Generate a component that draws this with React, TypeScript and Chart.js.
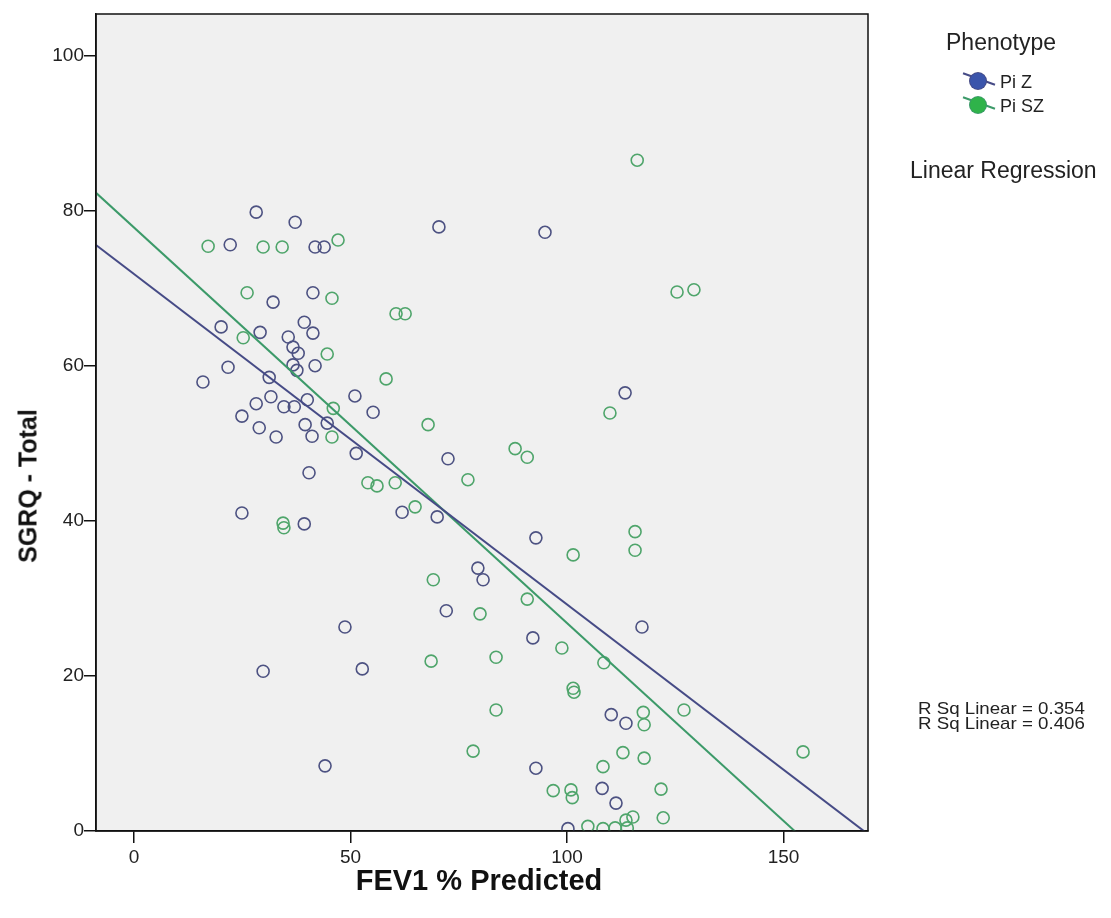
import React, { useEffect, useRef } from "react";
import { Chart, registerables } from "chart.js";

Chart.register(...registerables);

// ---- axis ranges / ticks ----
const X_MIN = -8.8;
const X_MAX = 169.5;
const Y_MIN = 0;
const Y_MAX = 105.35;
const xTickValues = [0, 50, 100, 150];
const yTickValues = [0, 20, 40, 60, 80, 100];

// ---- labels ----
const xTitle = "FEV1 % Predicted";
const yTitle = "SGRQ - Total";
const legendTitle = "Phenotype";
const seriesNames = ["Pi Z", "Pi SZ"];
const fitTitle = "Linear Regression";

// ---- Pi Z ----
const piZ_x = [
  28.2, 37.2, 70.4, 94.9, 22.2, 41.8, 43.9, 32.1, 41.3, 20.1,
  29.1, 39.3, 41.3, 35.6, 36.7, 37.9, 36.7, 37.6, 41.8, 15.9,
  21.7, 31.2, 31.6, 28.2, 24.9, 28.9, 32.8, 34.6, 37.0, 40.0,
  39.5, 41.1, 44.6, 51.0, 55.2, 51.3, 40.4, 24.9, 39.3, 61.9,
  70.0, 72.5, 92.8, 113.4, 79.4, 80.6, 72.1, 92.1, 117.3, 48.7,
  29.8, 52.7, 44.1, 110.2, 113.6, 92.8, 108.1, 111.3, 100.2,
];
const piZ_y = [
  79.8, 78.5, 77.9, 77.2, 75.6, 75.3, 75.3, 68.2, 69.4, 65.0,
  64.3, 65.6, 64.2, 63.7, 62.4, 61.6, 60.1, 59.4, 60.0, 57.9,
  59.8, 58.5, 56.0, 55.1, 53.5, 52.0, 50.8, 54.7, 54.7, 55.6,
  52.4, 50.9, 52.6, 56.1, 54.0, 48.7, 46.2, 41.0, 39.6, 41.1,
  40.5, 48.0, 37.8, 56.5, 33.9, 32.4, 28.4, 24.9, 26.3, 26.3,
  20.6, 20.9, 8.4, 15.0, 13.9, 8.1, 5.5, 3.6, 0.3,
];

// ---- Pi SZ ----
const piSZ_x = [
  116.2, 17.1, 29.8, 34.2, 47.1, 26.1, 45.7, 125.4, 129.3, 60.5,
  62.6, 25.2, 44.6, 58.2, 46.0, 45.7, 67.9, 54.0, 56.1, 60.3,
  64.9, 77.1, 88.0, 90.8, 34.4, 34.6, 101.4, 115.7, 115.7, 109.9,
  69.1, 79.9, 90.8, 98.8, 68.6, 83.6, 108.5, 101.4, 101.6, 83.6,
  117.6, 117.8, 127.0, 78.3, 112.9, 117.8, 154.5, 108.3, 96.8, 100.9,
  101.2, 121.7, 115.2, 113.6, 122.2, 104.8, 108.3, 111.1, 113.9,
];
const piSZ_y = [
  86.5, 75.4, 75.3, 75.3, 76.2, 69.4, 68.7, 69.5, 69.8, 66.7,
  66.7, 63.6, 61.5, 58.3, 54.5, 50.8, 52.4, 44.9, 44.5, 44.9,
  41.8, 45.3, 49.3, 48.2, 39.7, 39.1, 35.6, 38.6, 36.2, 53.9,
  32.4, 28.0, 29.9, 23.6, 21.9, 22.4, 21.7, 18.4, 17.9, 15.6,
  15.3, 13.7, 15.6, 10.3, 10.1, 9.4, 10.2, 8.3, 5.2, 5.3,
  4.3, 5.4, 1.8, 1.4, 1.7, 0.6, 0.3, 0.4, 0.4,
];

// ---- fit lines ----
const fitIntercepts = [71.8, 77.8];
const fitSlopes = [-0.426, -0.51];
const rSquared = [0.354, 0.406];

// ---- styles ----
const markerColors = ["#4d5282", "#4fa56b"];
const lineColors = ["#464b86", "#3c9a69"];
const legendFill = ["#3b55ab", "#2fb34a"];
const FONT = "'Liberation Sans', Arial, sans-serif";

const W = 1111;
const H = 918;

const toPoints = (xs: number[], ys: number[]) => xs.map((x, i) => ({ x, y: ys[i] }));

export default function App() {
  const canvasRef = useRef<HTMLCanvasElement | null>(null);

  useEffect(() => {
    const canvas = canvasRef.current;
    if (!canvas) return;

    const framePlugin = {
      id: "frame",
      beforeDraw(chart: any) {
        const { ctx, chartArea } = chart;
        ctx.save();
        ctx.fillStyle = "#f0f0f0";
        ctx.fillRect(chartArea.left, chartArea.top, chartArea.right - chartArea.left, chartArea.bottom - chartArea.top);
        ctx.restore();
      },
      afterDraw(chart: any) {
        const { ctx, chartArea } = chart;
        ctx.save();
        ctx.strokeStyle = "#111";
        ctx.lineWidth = 1.5;
        ctx.strokeRect(chartArea.left, chartArea.top, chartArea.right - chartArea.left, chartArea.bottom - chartArea.top);
        ctx.restore();
      },
    };

    const scatterSets = [toPoints(piZ_x, piZ_y), toPoints(piSZ_x, piSZ_y)].map((pts, i) => ({
      type: "scatter" as const,
      label: seriesNames[i],
      data: pts,
      pointRadius: 6,
      pointHoverRadius: 6,
      pointBorderWidth: 1.6,
      pointBackgroundColor: "rgba(0,0,0,0)",
      pointBorderColor: markerColors[i],
      borderColor: markerColors[i],
      showLine: false,
      clip: 0,
      order: 2,
    }));

    const lineSets = fitIntercepts.map((a, i) => ({
      type: "line" as const,
      label: seriesNames[i] + " fit",
      data: [
        { x: X_MIN, y: a + fitSlopes[i] * X_MIN },
        { x: X_MAX, y: a + fitSlopes[i] * X_MAX },
      ],
      borderColor: lineColors[i],
      borderWidth: 2,
      pointRadius: 0,
      fill: false,
      clip: 0,
      order: 1,
    }));

    const chart = new Chart(canvas, {
      type: "scatter",
      data: { datasets: [...scatterSets, ...lineSets] as any },
      options: {
        responsive: false,
        animation: false,
        layout: { padding: { left: 0, top: 14, right: W - 868, bottom: 0 } },
        plugins: { legend: { display: false }, tooltip: { enabled: false } },
        scales: {
          x: {
            type: "linear",
            min: X_MIN,
            max: X_MAX,
            afterBuildTicks: (s: any) => {
              s.ticks = xTickValues.map((v) => ({ value: v }));
            },
            afterFit: (s: any) => {
              s.height = H - 831;
            },
            ticks: { font: { family: FONT, size: 19 }, color: "#222", padding: 3 },
            grid: { drawOnChartArea: false, drawTicks: true, tickLength: 12, color: "#111", lineWidth: 1.5 },
            border: { display: true, color: "#111", width: 1.5 },
          },
          y: {
            type: "linear",
            min: Y_MIN,
            max: Y_MAX,
            afterBuildTicks: (s: any) => {
              s.ticks = yTickValues.map((v) => ({ value: v }));
            },
            afterFit: (s: any) => {
              s.width = 96;
            },
            ticks: { font: { family: FONT, size: 19 }, color: "#222", padding: 0 },
            grid: { drawOnChartArea: false, drawTicks: true, tickLength: 12, color: "#111", lineWidth: 1.5 },
            border: { display: true, color: "#111", width: 1.5 },
          },
        },
      },
      plugins: [framePlugin],
    });

    return () => chart.destroy();
  }, []);

  const text = (style: React.CSSProperties, content: string, key?: string) => (
    <div
      key={key}
      style={{
        position: "absolute",
        fontFamily: FONT,
        color: "#222",
        whiteSpace: "nowrap",
        lineHeight: 1,
        ...style,
      }}
    >
      {content}
    </div>
  );

  const legendY = [81, 105];

  return (
    <div style={{ position: "fixed", left: 0, top: 0, width: W, height: H, background: "#fff", overflow: "hidden" }}>
      <canvas ref={canvasRef} width={W} height={H} style={{ position: "absolute", left: 0, top: 0 }} />
      {/* axis titles */}
      {text(
        { left: 479, top: 880, fontSize: 29, fontWeight: "bold", transform: "translate(-50%, -50%)", color: "#111" },
        xTitle
      )}
      {text(
        {
          left: 28,
          top: 486,
          fontSize: 25,
          fontWeight: "bold",
          transform: "translate(-50%, -50%) rotate(-90deg)",
          color: "#111",
        },
        yTitle
      )}
      {/* legend */}
      {text({ left: 1001, top: 42, fontSize: 23, transform: "translate(-50%, -50%)" }, legendTitle)}
      {seriesNames.map((name, i) => (
        <React.Fragment key={name}>
          <div
            style={{
              position: "absolute",
              left: 962,
              top: legendY[i] - 3,
              width: 34,
              height: 2,
              background: lineColors[i],
              transform: "rotate(20deg)",
              transformOrigin: "center",
            }}
          />
          <div
            style={{
              position: "absolute",
              left: 978 - 8,
              top: legendY[i] - 8,
              width: 16,
              height: 16,
              borderRadius: "50%",
              background: legendFill[i],
              boxShadow: `0 0 0 1px ${lineColors[i]}`,
            }}
          />
          {text({ left: 1000, top: legendY[i] + 1, fontSize: 18, transform: "translateY(-50%)" }, name)}
        </React.Fragment>
      ))}
      {text({ left: 910, top: 170, fontSize: 23, transform: "translateY(-50%)" }, fitTitle)}
      {rSquared.map((r, i) =>
        text(
          {
            left: 918,
            top: 708 + i * 15,
            fontSize: 17,
            transform: "translateY(-50%) scaleX(1.1)",
            transformOrigin: "left center",
          },
          `R Sq Linear = ${r.toFixed(3)}`,
          "r" + i
        )
      )}
    </div>
  );
}
